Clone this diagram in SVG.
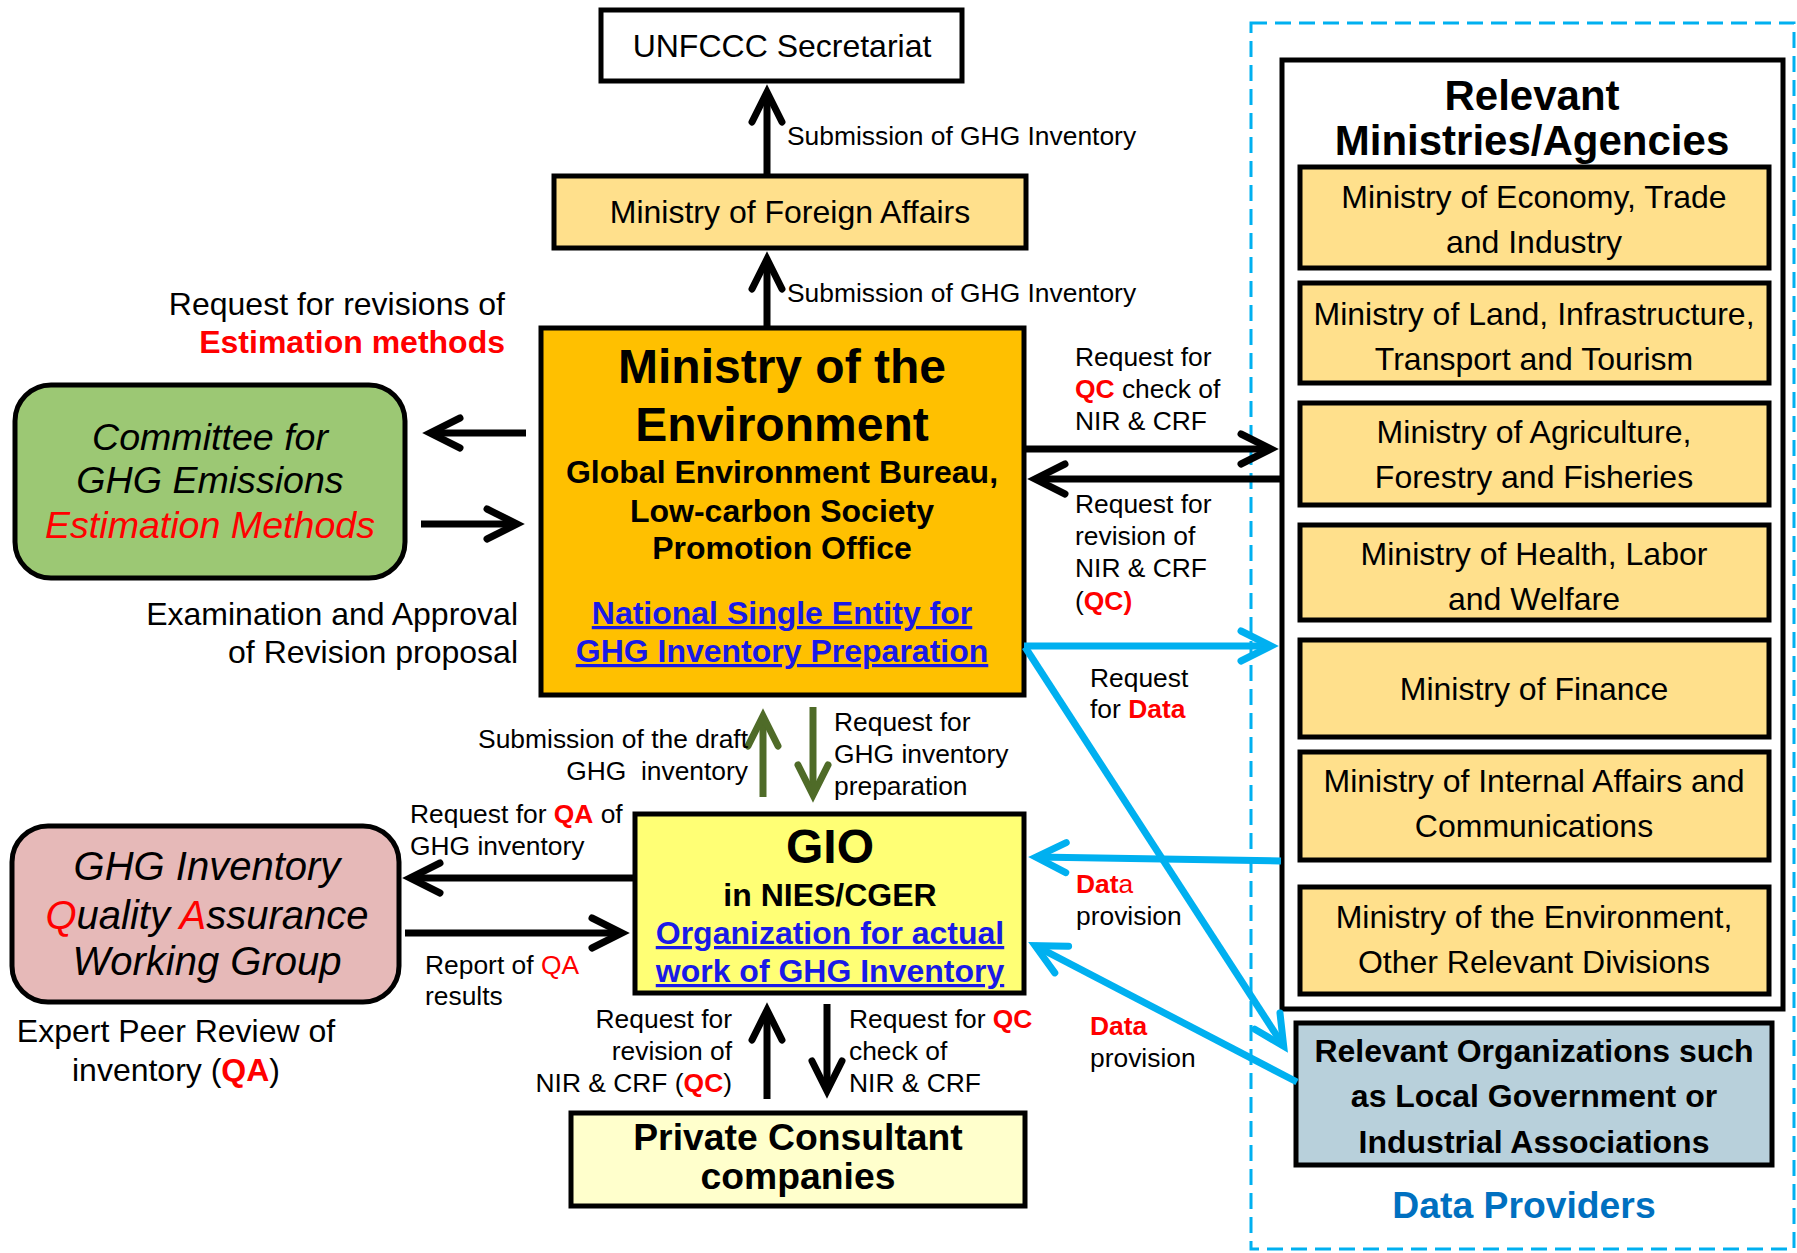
<svg xmlns="http://www.w3.org/2000/svg" width="1797" height="1253" viewBox="0 0 1797 1253">
<style>
text{font-family:"Liberation Sans",Arial,sans-serif;fill:#000}
.c{text-anchor:middle}
.e{text-anchor:end}
.b{font-weight:bold}
.i{font-style:italic}
.r{fill:#FF0000}
.u{fill:#1A1AE6;text-decoration:underline}
.box{stroke:#000;stroke-width:5}
.lbl{font-size:26.4px}
.mid{font-size:32px}
.big{font-size:48px}
.blk{fill:none;stroke:#000;stroke-width:7}
.cyn{fill:none;stroke:#00B0F0;stroke-width:7}
.grn{fill:none;stroke:#4F6B28;stroke-width:7}
</style>
<defs>
<marker id="ak" markerUnits="userSpaceOnUse" viewBox="-40 -30 60 60" markerWidth="60" markerHeight="60" refX="0" refY="0" orient="auto" overflow="visible"><path d="M-30 -15 L0 0 L-30 15" fill="none" stroke="#000" stroke-width="7" stroke-linecap="round"/></marker>
<marker id="ac" markerUnits="userSpaceOnUse" viewBox="-40 -30 60 60" markerWidth="60" markerHeight="60" refX="0" refY="0" orient="auto" overflow="visible"><path d="M-30 -15 L0 0 L-30 15" fill="none" stroke="#00B0F0" stroke-width="7" stroke-linecap="round"/></marker>
<marker id="ag" markerUnits="userSpaceOnUse" viewBox="-40 -30 60 60" markerWidth="60" markerHeight="60" refX="0" refY="0" orient="auto" overflow="visible"><path d="M-30 -15 L0 0 L-30 15" fill="none" stroke="#4F6B28" stroke-width="7" stroke-linecap="round"/></marker>
</defs>
<rect width="1797" height="1253" fill="#fff"/>

<g id="data-providers">
<rect x="1251" y="23" width="543" height="1226" fill="none" stroke="#00B0F0" stroke-width="3" stroke-dasharray="16 8"/>
<text class="c b" x="1524" y="1218" font-size="37.3" style="fill:#0070C0">Data Providers</text>
</g>

<g id="ministries">
<rect class="box" x="1282" y="60" width="501" height="949" fill="#fff"/>
<text class="c b" x="1532" y="110" font-size="42">Relevant</text>
<text class="c b" x="1532" y="155" font-size="42">Ministries/Agencies</text>
</g>
<g id="meti">
<rect class="box" x="1300" y="167" width="469" height="101" fill="#FFE08C"/>
<text class="c mid" x="1534" y="208">Ministry of Economy, Trade</text>
<text class="c mid" x="1534" y="253">and Industry</text>
</g>
<g id="mlit">
<rect class="box" x="1300" y="283" width="469" height="100" fill="#FFE08C"/>
<text class="c mid" x="1534" y="325">Ministry of Land, Infrastructure,</text>
<text class="c mid" x="1534" y="370">Transport and Tourism</text>
</g>
<g id="maff">
<rect class="box" x="1300" y="403" width="469" height="102" fill="#FFE08C"/>
<text class="c mid" x="1534" y="443">Ministry of Agriculture,</text>
<text class="c mid" x="1534" y="488">Forestry and Fisheries</text>
</g>
<g id="mhlw">
<rect class="box" x="1300" y="525" width="469" height="95" fill="#FFE08C"/>
<text class="c mid" x="1534" y="565">Ministry of Health, Labor</text>
<text class="c mid" x="1534" y="610">and Welfare</text>
</g>
<g id="mof">
<rect class="box" x="1300" y="640" width="469" height="97" fill="#FFE08C"/>
<text class="c mid" x="1534" y="700">Ministry of Finance</text>
</g>
<g id="mic">
<rect class="box" x="1300" y="752" width="469" height="108" fill="#FFE08C"/>
<text class="c mid" x="1534" y="792">Ministry of Internal Affairs and</text>
<text class="c mid" x="1534" y="837">Communications</text>
</g>
<g id="moe-other">
<rect class="box" x="1300" y="887" width="469" height="107" fill="#FFE08C"/>
<text class="c mid" x="1534" y="928">Ministry of the Environment,</text>
<text class="c mid" x="1534" y="973">Other Relevant Divisions</text>
</g>
<g id="relevant-orgs">
<rect class="box" x="1296" y="1023" width="476" height="142" fill="#B8D0DB"/>
<text class="c b mid" x="1534" y="1062">Relevant Organizations such</text>
<text class="c b mid" x="1534" y="1107">as Local Government or</text>
<text class="c b mid" x="1534" y="1153">Industrial Associations</text>
</g>

<g id="unfccc">
<rect class="box" x="601" y="10" width="361" height="71" fill="#fff"/>
<text class="c" x="782" y="57" font-size="32">UNFCCC Secretariat</text>
</g>
<g id="mofa">
<rect class="box" x="554" y="176" width="472" height="72" fill="#FFE08C"/>
<text class="c mid" x="790" y="223">Ministry of Foreign Affairs</text>
</g>
<g id="moe">
<rect class="box" x="541" y="328" width="483" height="367" fill="#FFC000"/>
<text class="c b big" x="782" y="383">Ministry of the</text>
<text class="c b big" x="782" y="441">Environment</text>
<text class="c b mid" x="782" y="483">Global Environment Bureau,</text>
<text class="c b mid" x="782" y="522">Low-carbon Society</text>
<text class="c b mid" x="782" y="559">Promotion Office</text>
<text class="c b u mid" x="782" y="624">National Single Entity for</text>
<text class="c b u mid" x="782" y="662">GHG Inventory Preparation</text>
</g>
<g id="committee">
<rect class="box" x="15" y="385" width="390" height="193" rx="36" fill="#9CC874"/>
<text class="c i" x="210" y="450" font-size="37.6">Committee for</text>
<text class="c i" x="210" y="493" font-size="37.6">GHG Emissions</text>
<text class="c i r" x="210" y="538" font-size="37.6">Estimation Methods</text>
</g>
<g id="gio">
<rect class="box" x="635" y="814" width="389" height="179" fill="#FFFF75"/>
<text class="c b big" x="830" y="863">GIO</text>
<text class="c b mid" x="830" y="906">in NIES/CGER</text>
<text class="c b u mid" x="830" y="944">Organization for actual</text>
<text class="c b u mid" x="830" y="982">work of GHG Inventory</text>
</g>
<g id="qa-wg">
<rect class="box" x="12" y="826" width="387" height="176" rx="36" fill="#E6B9B8"/>
<text class="c i" x="207" y="880" font-size="40">GHG Inventory</text>
<text class="c i" x="207" y="929" font-size="40"><tspan class="r">Q</tspan>uality <tspan class="r">A</tspan>ssurance</text>
<text class="c i" x="207" y="975" font-size="40">Working Group</text>
</g>
<g id="private">
<rect class="box" x="571" y="1113" width="454" height="93" fill="#FFFFCC"/>
<text class="c b" x="798" y="1150" font-size="37.3">Private Consultant</text>
<text class="c b" x="798" y="1189" font-size="37.3">companies</text>
</g>

<g id="connectors">
<path class="blk" d="M767 327 V259" marker-end="url(#ak)"/>
<path class="blk" d="M767 175 V92" marker-end="url(#ak)"/>
<path class="blk" d="M526 433 H430" marker-end="url(#ak)"/>
<path class="blk" d="M421 524 H517" marker-end="url(#ak)"/>
<path class="blk" d="M1024 449 H1271" marker-end="url(#ak)"/>
<path class="blk" d="M1281 479 H1035" marker-end="url(#ak)"/>
<path class="cyn" d="M1024 646 H1271" marker-end="url(#ac)"/>
<path class="cyn" d="M1025 647 L1283.7 1046.3" marker-end="url(#ac)"/>
<path class="cyn" d="M1281 861 L1036 857.1" marker-end="url(#ac)"/>
<path class="cyn" d="M1297 1082 L1035.1 945.7" marker-end="url(#ac)"/>
<path class="grn" d="M763 797 V716" marker-end="url(#ag)"/>
<path class="grn" d="M813 707 V795" marker-end="url(#ag)"/>
<path class="blk" d="M635 878 H410" marker-end="url(#ak)"/>
<path class="blk" d="M405 933 H622" marker-end="url(#ak)"/>
<path class="blk" d="M767 1099 V1010" marker-end="url(#ak)"/>
<path class="blk" d="M827 1004 V1091" marker-end="url(#ak)"/>
</g>

<g id="labels">
<text class="lbl" x="787" y="145">Submission of GHG Inventory</text>
<text class="lbl" x="787" y="302">Submission of GHG Inventory</text>
<text class="e mid" x="505" y="315">Request for revisions of</text>
<text class="e b r mid" x="505" y="353">Estimation methods</text>
<text class="e mid" x="518" y="625">Examination and Approval</text>
<text class="e mid" x="518" y="663">of Revision proposal</text>
<text class="lbl" x="1075" y="366">Request for</text>
<text class="lbl" x="1075" y="398"><tspan class="b r">QC</tspan> check of</text>
<text class="lbl" x="1075" y="430">NIR &amp; CRF</text>
<text class="lbl" x="1075" y="513">Request for</text>
<text class="lbl" x="1075" y="545">revision of</text>
<text class="lbl" x="1075" y="577">NIR &amp; CRF</text>
<text class="lbl" x="1075" y="610">(<tspan class="b r">QC)</tspan></text>
<text class="lbl" x="1090" y="687">Request</text>
<text class="lbl" x="1090" y="718">for <tspan class="b r">Data</tspan></text>
<text class="lbl r" x="1076" y="893"><tspan class="b">Dat</tspan>a</text>
<text class="lbl" x="1076" y="925">provision</text>
<text class="lbl r b" x="1090" y="1035">Data</text>
<text class="lbl" x="1090" y="1067">provision</text>
<text class="lbl e" x="748" y="748">Submission of the draft</text>
<text class="lbl e" x="748" y="780" xml:space="preserve">GHG  inventory</text>
<text class="lbl" x="834" y="731">Request for</text>
<text class="lbl" x="834" y="763">GHG inventory</text>
<text class="lbl" x="834" y="795">preparation</text>
<text class="lbl" x="410" y="823">Request for <tspan class="b r">QA</tspan> of</text>
<text class="lbl" x="410" y="855">GHG inventory</text>
<text class="lbl" x="425" y="974">Report of <tspan class="r">QA</tspan></text>
<text class="lbl" x="425" y="1005">results</text>
<text class="c mid" x="176" y="1042">Expert Peer Review of</text>
<text class="c mid" x="176" y="1081">inventory (<tspan class="b r">QA</tspan>)</text>
<text class="lbl e" x="732" y="1028">Request for</text>
<text class="lbl e" x="732" y="1060">revision of</text>
<text class="lbl e" x="732" y="1092">NIR &amp; CRF (<tspan class="b r">QC</tspan>)</text>
<text class="lbl" x="849" y="1028">Request for <tspan class="b r">QC</tspan></text>
<text class="lbl" x="849" y="1060">check of</text>
<text class="lbl" x="849" y="1092">NIR &amp; CRF</text>
</g>
</svg>
